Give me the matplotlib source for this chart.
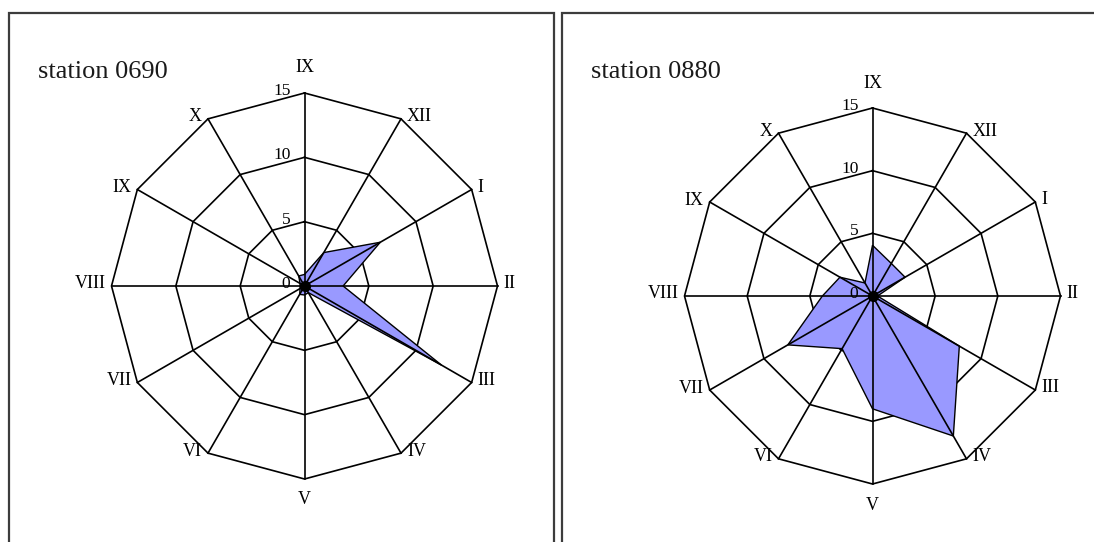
import numpy as np
import matplotlib
matplotlib.use("Agg")
import matplotlib.pyplot as plt
from matplotlib.patches import Rectangle

# Month spokes, clockwise from the top
months = ["IX", "XII", "I", "II", "III", "IV", "V", "VI", "VII", "VIII", "IX", "X"]

# Monthly values per station
station_0690 = [0.9, 3.0, 6.8, 3.0, 12.3, 0.6, 0.7, 0.75, 0.4, 0.35, 0.4, 0.9]
station_0880 = [4.05, 3.0, 3.0, 0.4, 8.0, 12.9, 9.0, 4.85, 7.8, 4.0, 3.0, 1.2]

stations = ["station 0690", "station 0880"]
series = [station_0690, station_0880]

ring_values = [5, 10, 15]
tick_values = [0, 5, 10, 15]
r_max = 15

FONT = "Liberation Serif"
FILL = "#9999ff"

W, H = 1094, 542
fig = plt.figure(figsize=(W / 100, H / 100), dpi=100)
fig.patch.set_facecolor("white")

# panel frames (pixel coordinates: left, right, top)
frames = [(9, 554, 13), (562, 1110, 13)]
for x0, x1, top in frames:
    fig.add_artist(Rectangle((x0 / W, -0.1), (x1 - x0) / W, (H - top) / H + 0.1,
                             transform=fig.transFigure, fill=False,
                             edgecolor="#3c3c3c", linewidth=1.6))

# chart centre (px), radius (px) and title position (px) for each panel
layout = [((304.5, 286.0), 193.0, (38, 72)),
          ((872.5, 296.0), 188.0, (591, 72))]

theta = np.linspace(0, 2 * np.pi, len(months), endpoint=False)
theta_closed = np.append(theta, theta[0])

for ((cx, cy), R, (tx, ty)), name, vals in zip(layout, stations, series):
    ax = fig.add_axes([(cx - R) / W, (H - cy - R) / H, 2 * R / W, 2 * R / H],
                      projection="polar")
    ax.set_theta_zero_location("N")
    ax.set_theta_direction(-1)
    ax.set_ylim(0, r_max)
    ax.set_axis_off()

    # polygonal rings
    for rv in ring_values:
        ax.plot(theta_closed, [rv] * len(theta_closed), color="black",
                linewidth=1.2, zorder=1, clip_on=False)

    # data polygon
    ax.fill(theta, vals, facecolor=FILL, edgecolor="black", linewidth=1.0,
            zorder=2, clip_on=False)

    # spokes
    for t in theta:
        ax.plot([t, t], [0, r_max], color="black", linewidth=1.2, zorder=3,
                clip_on=False)

    # centre dot
    ax.plot([0], [0], marker="o", markersize=7, color="black", zorder=4,
            clip_on=False)

    # radial tick labels along the top spoke
    for tv in tick_values:
        ax.annotate(str(tv), xy=(0, tv), xytext=(-14, 2),
                    textcoords="offset pixels", ha="right", va="center",
                    fontsize=12.5, family=FONT, annotation_clip=False)

    # month labels
    for t, lab in zip(theta, months):
        s, c = np.sin(t), np.cos(t)
        if abs(s) < 1e-6:
            ha = "center"
            dx, dy = 0, (25 if c > 0 else -21)
        elif s > 0:
            ha, dx, dy = "left", 6, 2
        else:
            ha, dx, dy = "right", -6, 2
        ax.annotate(lab, xy=(t, r_max), xytext=(dx, dy),
                    textcoords="offset pixels", ha=ha, va="center",
                    fontsize=13, family=FONT, annotation_clip=False)

    fig.text(tx / W, 1 - ty / H, name, ha="left", va="center",
             fontsize=19, family=FONT, color="#1a1a1a")

fig.savefig("out.png", dpi=100, facecolor="white")
